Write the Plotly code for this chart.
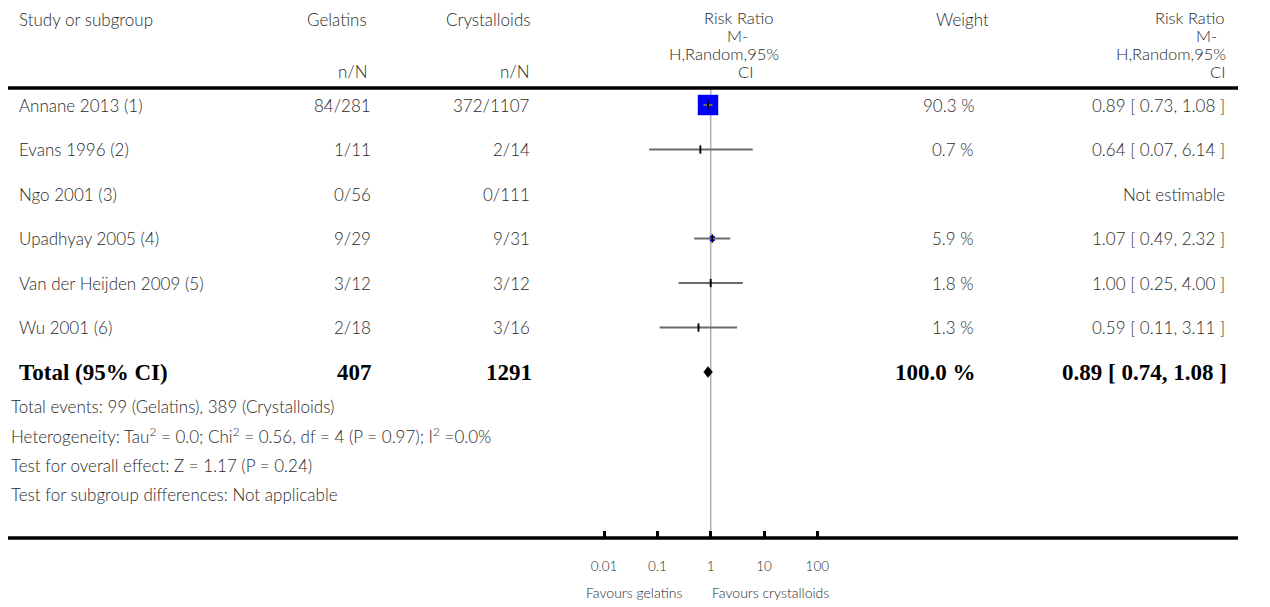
import math
import plotly.graph_objects as go

# ---------------- data ----------------
studies = ["Annane 2013 (1)", "Evans 1996 (2)", "Ngo 2001 (3)",
           "Upadhyay 2005 (4)", "Van der Heijden 2009 (5)", "Wu 2001 (6)"]
gelatins_nN = ["84/281", "1/11", "0/56", "9/29", "3/12", "2/18"]
crystalloids_nN = ["372/1107", "2/14", "0/111", "9/31", "3/12", "3/16"]
rr = [0.89, 0.64, None, 1.07, 1.00, 0.59]
ci_low = [0.73, 0.07, None, 0.49, 0.25, 0.11]
ci_high = [1.08, 6.14, None, 2.32, 4.00, 3.11]
weights = [90.3, 0.7, None, 5.9, 1.8, 1.3]
weight_labels = ["90.3 %", "0.7 %", "", "5.9 %", "1.8 %", "1.3 %"]
rr_labels = ["0.89 [ 0.73, 1.08 ]", "0.64 [ 0.07, 6.14 ]", "Not estimable",
             "1.07 [ 0.49, 2.32 ]", "1.00 [ 0.25, 4.00 ]", "0.59 [ 0.11, 3.11 ]"]

total_label = "Total (95% CI)"
total_gelatins = "407"
total_crystalloids = "1291"
total_rr = 0.89
total_low = 0.74
total_high = 1.08
total_weight_label = "100.0 %"
total_rr_label = "0.89 [ 0.74, 1.08 ]"

footnotes = [
    "Total events: 99 (Gelatins), 389 (Crystalloids)",
    "Heterogeneity: Tau<sup>2</sup> = 0.0; Chi<sup>2</sup> = 0.56, df = 4 (P = 0.97); I<sup>2</sup> =0.0%",
    "Test for overall effect: Z = 1.17 (P = 0.24)",
    "Test for subgroup differences: Not applicable",
]

tick_values = [0.01, 0.1, 1, 10, 100]
tick_labels = ["0.01", "0.1", "1", "10", "100"]
favours_left = "Favours gelatins"
favours_right = "Favours crystalloids"

# ---------------- geometry / style ----------------
W, H = 1270, 607
X_ONE = 710.7      # pixel of RR = 1
PX_DEC = 53.3      # pixels per decade
ROW0 = 105         # pixel of first study row
ROW_H = 44.5       # row spacing
AXIS_Y = 538       # pixel of bottom axis line
HEAD_Y = 88        # pixel of header rule
LINE_X0, LINE_X1 = 8, 1238

SANS = "Lato, 'Open Sans', sans-serif"
SERIF = "'Liberation Serif', 'Times New Roman', serif"
TXT = "#2a2a2a"
FS = 17
HS = 16.5
BS = 23
LIGHT = 300


def px(x):
    return x / W


def py(y):
    return 1 - y / H


n = len(studies)
total_row = n

fig = go.Figure()

# study squares (side grows with sqrt of weight)
sq_x, sq_y, sq_s = [], [], []
for i in range(n):
    if rr[i] is not None:
        sq_x.append(rr[i]); sq_y.append(i)
        sq_s.append(2.15 * math.sqrt(weights[i]))
fig.add_trace(go.Scatter(x=sq_x, y=sq_y, mode="markers",
                         marker=dict(symbol="square", size=sq_s, color="#0000ff",
                                     opacity=1, line=dict(width=0)),
                         hoverinfo="skip", showlegend=False))

# CI lines
cx, cy = [], []
for i in range(n):
    if rr[i] is not None:
        cx += [ci_low[i], ci_high[i], None]
        cy += [i, i, None]
fig.add_trace(go.Scatter(x=cx, y=cy, mode="lines",
                         line=dict(color="#6a6a6a", width=2),
                         hoverinfo="skip", showlegend=False))

# point estimate ticks
fig.add_trace(go.Scatter(x=sq_x, y=sq_y, mode="markers",
                         marker=dict(symbol="line-ns", size=6, opacity=1,
                                     line=dict(width=1.8, color="black")),
                         hoverinfo="skip", showlegend=False))

# total diamond
d = 5.5 / ROW_H
fig.add_trace(go.Scatter(x=[total_low, total_rr, total_high, total_rr, total_low],
                         y=[total_row, total_row - d, total_row, total_row + d, total_row],
                         mode="lines", fill="toself", fillcolor="black",
                         line=dict(color="black", width=0.5),
                         hoverinfo="skip", showlegend=False))

ann = []


def text(x, y, s, anchor="left", yref="paper", size=FS, family=SANS, color=TXT, weight=LIGHT):
    f = dict(family=family, size=size, color=color)
    if weight is not None:
        f["weight"] = weight
    ann.append(dict(x=x, y=y, xref="paper", yref=yref, text=s, showarrow=False,
                    xanchor=anchor, yanchor="middle", borderpad=0, font=f))


# header
text(px(18), py(19), "Study or subgroup")
text(px(368), py(19), "Gelatins", "right")
text(px(369), py(72), "n/N", "right")
text(px(531), py(19), "Crystalloids", "right")
text(px(531), py(72), "n/N", "right")
text(px(739), py(18), "Risk Ratio", "center", size=HS)
text(px(737), py(36), "M-", "center", size=HS)
text(px(724), py(54), "H,Random,95%", "center", size=HS)
text(px(745), py(72), "CI", "center", size=HS)
text(px(962), py(19), "Weight", "center")
text(px(1226), py(18), "Risk Ratio", "right", size=HS)
text(px(1218), py(36), "M-", "right", size=HS)
text(px(1227), py(54), "H,Random,95%", "right", size=HS)
text(px(1226), py(72), "CI", "right", size=HS)

# study rows
for i in range(n):
    text(px(18), i, studies[i], "left", yref="y")
    text(px(372), i, gelatins_nN[i], "right", yref="y")
    text(px(531), i, crystalloids_nN[i], "right", yref="y")
    if weight_labels[i]:
        text(px(975), i, weight_labels[i], "right", yref="y")
    text(px(1226), i, rr_labels[i], "right", yref="y")

# total row
for xx, s, anc in [(18, total_label, "left"), (373, total_gelatins, "right"),
                   (533, total_crystalloids, "right"), (977, total_weight_label, "right"),
                   (1228, total_rr_label, "right")]:
    text(px(xx), total_row, "<b>" + s + "</b>", anc, yref="y", size=BS,
         family=SERIF, color="black", weight=None)

# footnotes
for k, s in enumerate(footnotes):
    text(px(10), py(406 + 29.5 * k), s)

# favours labels
text(px(634), py(592), favours_left, "center", size=14)
text(px(770), py(592), favours_right, "center", size=14)

shapes = [
    dict(type="line", xref="paper", yref="paper", x0=px(LINE_X0), x1=px(LINE_X1),
         y0=py(HEAD_Y), y1=py(HEAD_Y), line=dict(color="black", width=3.5)),
    dict(type="line", xref="paper", yref="paper", x0=px(LINE_X0), x1=px(LINE_X1),
         y0=py(AXIS_Y), y1=py(AXIS_Y), line=dict(color="black", width=3.5)),
    dict(type="line", xref="x", yref="paper", x0=1, x1=1,
         y0=py(HEAD_Y), y1=py(AXIS_Y), line=dict(color="#b0b0b0", width=1.5),
         layer="below"),
]

fig.update_layout(
    width=W, height=H,
    margin=dict(l=0, r=0, t=0, b=0),
    paper_bgcolor="white", plot_bgcolor="white",
    showlegend=False,
    annotations=ann,
    shapes=shapes,
    xaxis=dict(type="log", domain=[0, 1],
               range=[(0 - X_ONE) / PX_DEC, (W - X_ONE) / PX_DEC],
               showgrid=False, zeroline=False, showline=False,
               tickmode="array", tickvals=tick_values, ticktext=tick_labels,
               ticks="inside", ticklen=7, tickwidth=2.5, tickcolor="black",
               tickfont=dict(family=SANS, size=13.5, color=TXT, weight=LIGHT),
               ticklabelstandoff=18, fixedrange=True),
    yaxis=dict(domain=[(H - AXIS_Y) / H, 1],
               range=[(AXIS_Y - ROW0) / ROW_H, (0 - ROW0) / ROW_H],
               visible=False, fixedrange=True),
)

fig.write_html("out.html")
